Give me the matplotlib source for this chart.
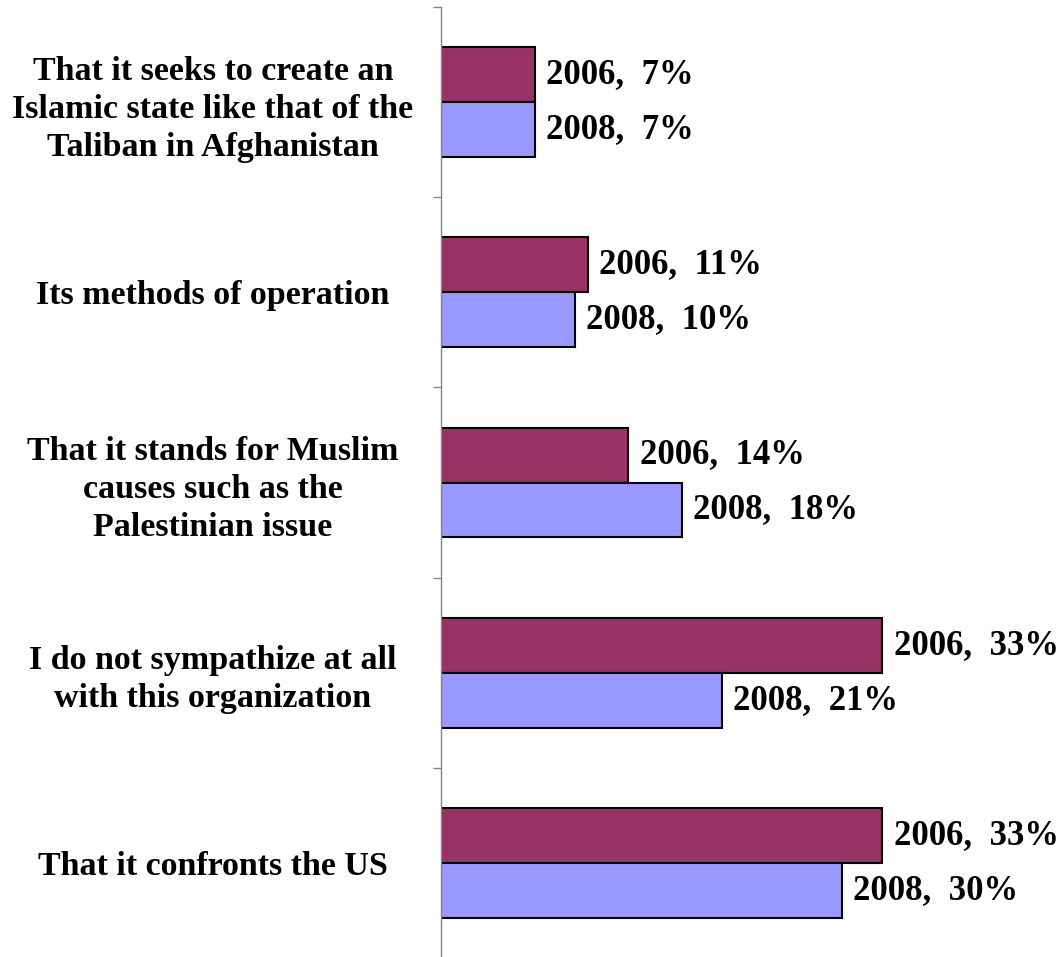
import matplotlib.pyplot as plt
import numpy as np

categories = [
    "That it seeks to create an\nIslamic state like that of the\nTaliban in Afghanistan",
    "Its methods of operation",
    "That it stands for Muslim\ncauses such as the\nPalestinian issue",
    "I do not sympathize at all\nwith this organization",
    "That it confronts the US",
]
vals_2006 = [7, 11, 14, 33, 33]
vals_2008 = [7, 10, 18, 21, 30]
years = ["2006", "2008"]

FONT = "Liberation Serif"

fig = plt.figure(figsize=(10.64, 9.57), dpi=100)
# plot area: axis line at x=441px, spans y 7..958px
ax = fig.add_axes([441 / 1064, -1 / 957, 623 / 1064, 951 / 957])

y = np.arange(len(categories))
h = 0.289
ax.barh(y - h / 2, vals_2006, height=h, color="#993366", edgecolor="black", linewidth=1.5)
ax.barh(y + h / 2, vals_2008, height=h, color="#9999FF", edgecolor="black", linewidth=1.5)

# value labels "year, value%"
for i in range(len(categories)):
    for yr, v, off in [(years[0], vals_2006[i], -h / 2), (years[1], vals_2008[i], h / 2)]:
        ax.text(v + 0.85, y[i] + off, f"{yr},  {v}%", va="center", ha="left",
                fontsize=25, fontweight="bold", family=FONT)

ax.set_xlim(0, 623 / 13.37)
ax.set_ylim(len(categories) - 0.5, -0.5)

ax.set_yticks(y)
ax.set_yticklabels(categories, ha="center", fontsize=24.5, fontweight="bold",
                   family=FONT, linespacing=1.3)
ax.tick_params(axis="y", which="major", length=0, pad=(441 - 213) / 1.389)
ax.set_yticks(np.arange(-0.5, len(categories)), minor=True)
ax.tick_params(axis="y", which="minor", length=6, color="#868686", width=1)

ax.set_xticks([])
for s in ["top", "right", "bottom"]:
    ax.spines[s].set_visible(False)
ax.spines["left"].set_color("#868686")
ax.spines["left"].set_linewidth(1)
ax.patch.set_alpha(0)

fig.savefig("out.png", dpi=100)
